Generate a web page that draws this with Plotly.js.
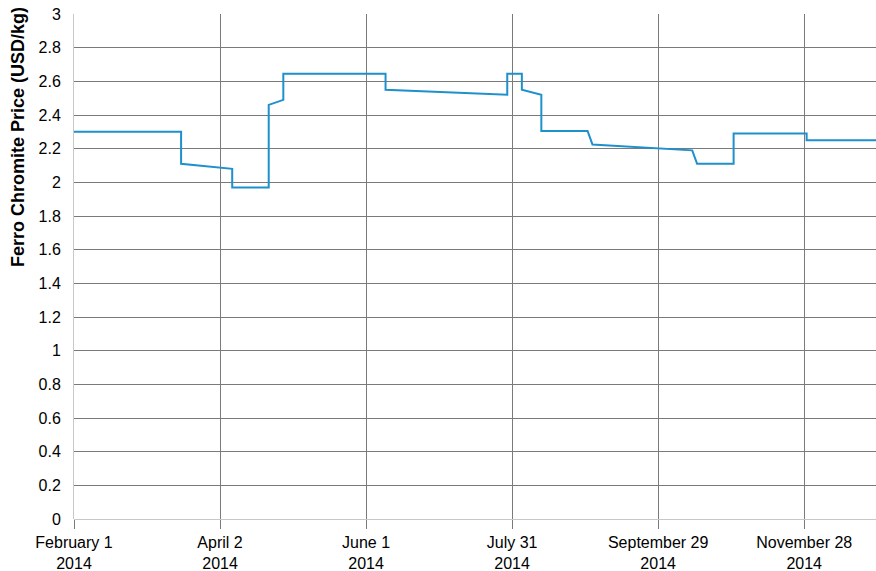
<!DOCTYPE html>
<html>
<head>
<meta charset="utf-8">
<script src="https://cdn.plot.ly/plotly-3.0.1.min.js"></script>
<style>html,body{margin:0;padding:0;background:#fff;}#chart{width:876px;height:571px;}</style>
</head>
<body>
<div id="chart"></div>
<script>
const dates = [
  "2014-02-01","2014-03-17","2014-03-17","2014-04-07","2014-04-07","2014-04-22","2014-04-22",
  "2014-04-28","2014-04-28","2014-06-09","2014-06-09","2014-07-29","2014-07-29","2014-08-04",
  "2014-08-04","2014-08-12","2014-08-12","2014-08-31","2014-09-02","2014-10-13","2014-10-15",
  "2014-10-30","2014-10-30","2014-11-29","2014-11-29","2014-12-28"
];
const prices = [
  2.30,2.30,2.11,2.08,1.97,1.97,2.46,
  2.49,2.645,2.645,2.55,2.52,2.645,2.645,
  2.55,2.52,2.305,2.305,2.225,2.19,2.11,
  2.11,2.29,2.29,2.25,2.25
];
const tickDates = ["2014-02-01","2014-04-02","2014-06-01","2014-07-31","2014-09-29","2014-11-28"];
const tickLabels = ["February 1<br>2014","April 2<br>2014","June 1<br>2014","July 31<br>2014","September 29<br>2014","November 28<br>2014"];
const yTitle = "Ferro Chromite Price (USD/kg)";

Plotly.newPlot("chart", [{
  x: dates, y: prices, type: "scatter", mode: "lines",
  line: {color: "#1e90cc", width: 2},
  hoverinfo: "skip"
}], {
  width: 876, height: 571,
  margin: {l: 74, r: 0, t: 14, b: 52},
  paper_bgcolor: "#fff", plot_bgcolor: "#fff",
  font: {family: "Liberation Sans, Arial, sans-serif", size: 16, color: "#000"},
  showlegend: false,
  xaxis: {
    type: "date",
    range: ["2014-02-01", "2014-12-27 12:00"],
    tickmode: "array", tickvals: tickDates, ticktext: tickLabels,
    showgrid: true, gridcolor: "#7a7a7a", gridwidth: 1,
    ticks: "outside", ticklen: 9, tickcolor: "#7a7a7a", tickwidth: 1,
    showline: false, zeroline: false,
    tickfont: {size: 16}
  },
  yaxis: {
    range: [0, 3], dtick: 0.2, tick0: 0,
    showgrid: true, gridcolor: "#7a7a7a", gridwidth: 1,
    zeroline: true, zerolinecolor: "#c8c8c8", zerolinewidth: 1,
    showline: true, linecolor: "#c8c8c8", linewidth: 1,
    ticks: "outside", ticklen: 9, tickcolor: "rgba(0,0,0,0)",
    tickfont: {size: 16}
  },
  annotations: [{
    text: "<b>" + yTitle + "</b>",
    xref: "paper", yref: "paper",
    x: (18 - 74) / 802, y: (519 - 137) / 505,
    xanchor: "center", yanchor: "middle",
    textangle: -90, showarrow: false,
    font: {size: 18, color: "#000"}
  }]
}, {displayModeBar: false, staticPlot: true});
</script>
</body>
</html>
